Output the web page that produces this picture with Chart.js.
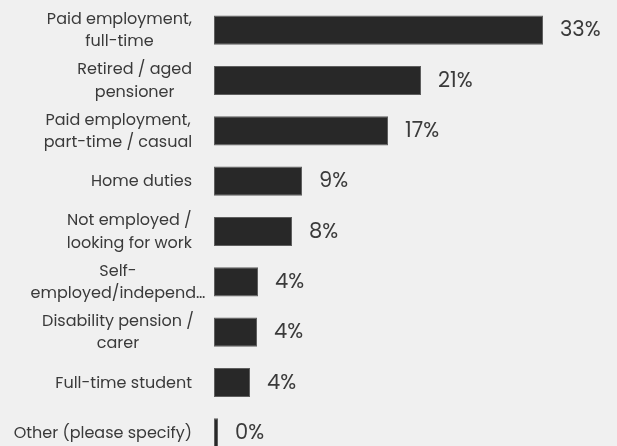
<!DOCTYPE html>
<html>
<head>
<meta charset="utf-8">
<script src="https://cdn.jsdelivr.net/npm/chart.js@4.4.0/dist/chart.umd.min.js"></script>
<style>
    html, body { margin: 0; padding: 0; background: #f0f0f0; overflow: hidden; }
    .chart-box { position: relative; width: 617px; height: 458px; }
</style>
</head>
<body>
<div class="chart-box"><canvas id="statusChart"></canvas></div>
<script>
// answer options (already split into display lines)
const categories = [
    ['Paid employment,', 'full-time'],
    ['Retired / aged', 'pensioner'],
    ['Paid employment,', 'part-time / casual'],
    ['Home duties'],
    ['Not employed /', 'looking for work'],
    ['Self-', 'employed/independ\u2026'],
    ['Disability pension /', 'carer'],
    ['Full-time student'],
    ['Other (please specify)']
];

// share of respondents, percent
const shares = [32.9, 20.7, 17.4, 8.8, 7.8, 4.4, 4.3, 3.6, 0.4];

const textColor = '#3a3a3a';
const fontFamily = "Poppins, 'Open Sans', sans-serif";

// category labels: block right-aligned to the axis, lines centered inside it
const categoryLabels = {
    id: 'categoryLabels',
    afterDraw(chart) {
        const ctx = chart.ctx;
        const yScale = chart.scales.y;
        const right = 192;
        const lineH = 22.5;
        ctx.save();
        ctx.fillStyle = textColor;
        ctx.font = '16px ' + fontFamily;
        ctx.textBaseline = 'middle';
        categories.forEach(function(lines, i) {
            const y = yScale.getPixelForTick(i) + 1;
            const top = y - (lines.length - 1) * lineH / 2;
            if (lines.length === 1) {
                ctx.textAlign = 'right';
                ctx.fillText(lines[0], right, top);
                return;
            }
            let w = 0;
            lines.forEach(function(l) { w = Math.max(w, ctx.measureText(l).width); });
            const cx = right - Math.min(w, 148) / 2;
            ctx.textAlign = 'center';
            lines.forEach(function(l, j) {
                ctx.fillText(l, cx, top + j * lineH);
            });
        });
        ctx.restore();
    }
};

// percentage next to each bar
const valueLabels = {
    id: 'valueLabels',
    afterDatasetsDraw(chart) {
        const ctx = chart.ctx;
        const meta = chart.getDatasetMeta(0);
        ctx.save();
        ctx.fillStyle = textColor;
        ctx.font = '21px ' + fontFamily;
        ctx.textAlign = 'left';
        ctx.textBaseline = 'middle';
        meta.data.forEach(function(bar, i) {
            ctx.fillText(Math.round(shares[i]) + '%', bar.x + 17, bar.y + 1);
        });
        ctx.restore();
    }
};

new Chart(document.getElementById('statusChart').getContext('2d'), {
    type: 'bar',
    data: {
        labels: categories,
        datasets: [{
            data: shares,
            backgroundColor: '#282828',
            borderColor: '#5e5e5e',
            borderWidth: 1,
            borderSkipped: false,
            barPercentage: 0.58,
            categoryPercentage: 1
        }]
    },
    options: {
        indexAxis: 'y',
        responsive: true,
        maintainAspectRatio: false,
        animation: false,
        layout: { padding: { top: 5, left: 0, right: 0, bottom: 0 } },
        plugins: {
            legend: { display: false },
            tooltip: { enabled: false }
        },
        scales: {
            x: {
                display: false,
                min: 0,
                max: 40.3
            },
            y: {
                grid: { display: false },
                border: { display: false },
                ticks: { display: false },
                afterFit: function(scale) { scale.width = 214; }
            }
        }
    },
    plugins: [categoryLabels, valueLabels]
});
</script>
</body>
</html>
